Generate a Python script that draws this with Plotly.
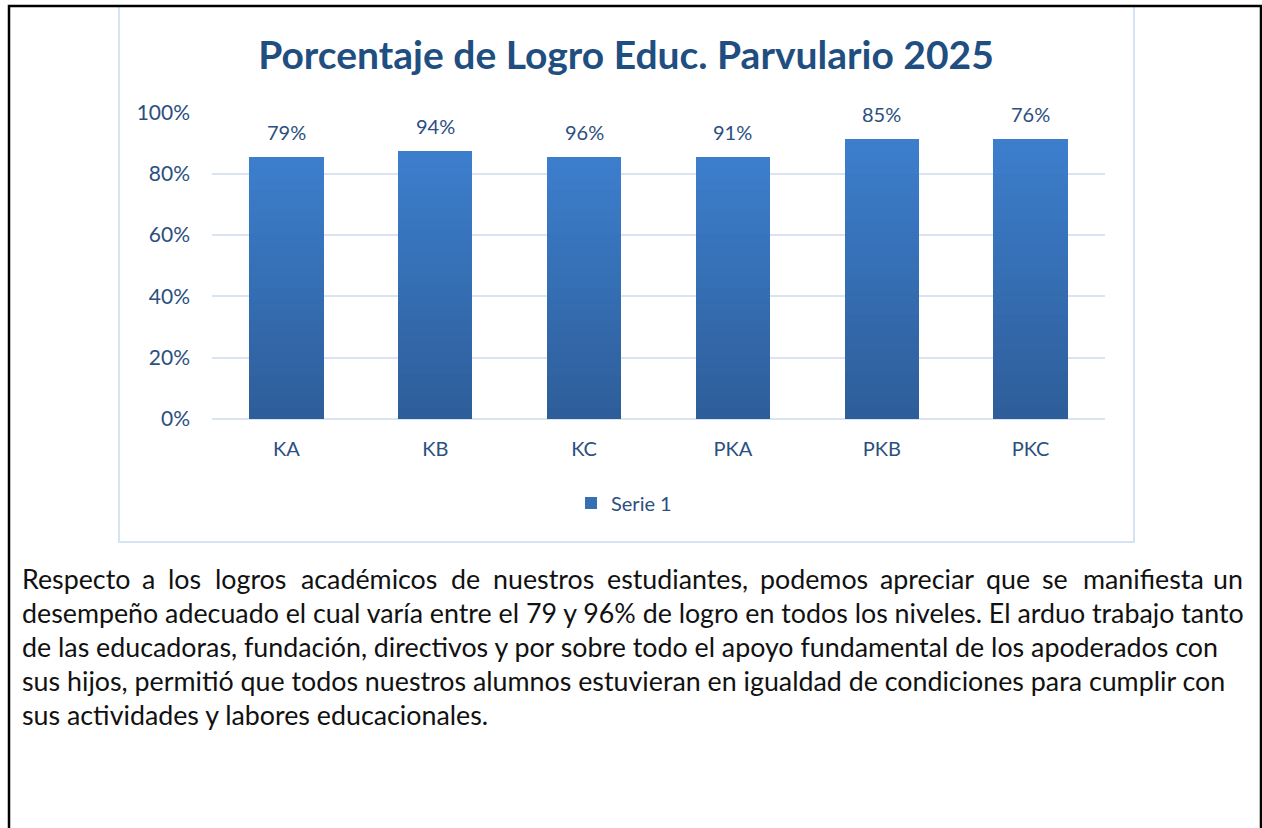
import plotly.graph_objects as go

# data
categories = ["KA", "KB", "KC", "PKA", "PKB", "PKC"]
bar_values = [0.854, 0.873, 0.854, 0.853, 0.912, 0.912]
label_text = ["79%", "94%", "96%", "91%", "85%", "76%"]
y_ticks = [0, 0.2, 0.4, 0.6, 0.8, 1.0]
series_name = "Serie 1"
chart_title = "Porcentaje de Logro Educ. Parvulario 2025"

paragraph_lines = [
    "Respecto a los logros académicos de nuestros estudiantes, podemos apreciar que se manifiesta un",
    "desempeño adecuado el cual varía entre el 79 y 96% de logro en todos los niveles. El arduo trabajo tanto",
    "de las educadoras, fundación, directivos y por sobre todo el apoyo fundamental de los apoderados con",
    "sus hijos, permitió que todos nuestros alumnos estuvieran en igualdad de condiciones para cumplir con",
    "sus actividades y labores educacionales.",
]

W, H = 1262, 828
FONT = "Lato"
BLUE_TEXT = "#2B4F80"
TOP_COLOR = (60, 126, 204)
BOTTOM_COLOR = (46, 94, 154)


def px(x):
    return x / W


def py(y):
    return 1 - y / H


def mix(t):
    c = [round(b + (a - b) * t) for a, b in zip(TOP_COLOR, BOTTOM_COLOR)]
    return f"rgb({c[0]},{c[1]},{c[2]})"


fig = go.Figure()

# vertical gradient: every bar split into thin stacked slices
n_slices = 24
for k in range(n_slices):
    fig.add_trace(go.Bar(
        x=categories,
        y=[v / n_slices for v in bar_values],
        marker=dict(color=mix(k / (n_slices - 1)), line=dict(width=0)),
        name=series_name,
        showlegend=(k == n_slices // 2),
        hoverinfo="skip",
    ))

# data labels above bars
for cat, val, lab in zip(categories, bar_values, label_text):
    fig.add_annotation(x=cat, y=val, text=lab, showarrow=False, yanchor="middle",
                       yshift=25, font=dict(family=FONT, size=20, color=BLUE_TEXT))

fig.update_layout(
    width=W, height=H,
    margin=dict(l=0, r=0, t=0, b=0, autoexpand=False),
    paper_bgcolor="white", plot_bgcolor="white",
    barmode="stack", bargap=0.5,
    font=dict(family=FONT, color=BLUE_TEXT),
    title=dict(text=f"<b>{chart_title}</b>", x=px(626), xanchor="center",
               y=py(55), yanchor="middle",
               font=dict(family=FONT, size=39, color="#1F4E80")),
    legend=dict(orientation="h", x=px(624), xanchor="center", y=py(503), yanchor="middle",
                font=dict(family=FONT, size=20, color=BLUE_TEXT)),
    xaxis=dict(domain=[px(212), px(1105)], showgrid=False, showline=False,
               ticklabelstandoff=16, tickfont=dict(family=FONT, size=20, color=BLUE_TEXT)),
    yaxis=dict(domain=[py(419), py(112)], range=[0, 1.0005], tickvals=y_ticks,
               tickformat=".0%", showgrid=True, gridcolor="#D9E3F2", gridwidth=2,
               zeroline=True, zerolinecolor="#D9E3F2", zerolinewidth=2,
               ticklabelstandoff=21, tickfont=dict(family=FONT, size=21, color=BLUE_TEXT)),
)

# chart frame and page border
fig.add_shape(type="rect", xref="paper", yref="paper", x0=px(119), x1=px(1134),
              y0=py(542), y1=py(6), line=dict(color="#D5E3F5", width=2))
fig.add_shape(type="rect", xref="paper", yref="paper", x0=px(9), x1=px(1261),
              y0=-0.02, y1=py(6), line=dict(color="black", width=2.5))

# paragraph text, first line justified word by word
CHAR_W = {c: 0.52 for c in "abcdeghknopqsuvxyz"}
CHAR_W.update({"i": 0.24, "l": 0.24, "j": 0.24, "f": 0.32, "t": 0.34, "r": 0.35,
               "m": 0.84, "w": 0.73, ",": 0.22, ".": 0.22, "%": 0.77, "R": 0.6,
               "é": 0.52, "í": 0.24, "ó": 0.56, "ñ": 0.56})

TEXT_SIZE = 26.8
LEFT, RIGHT = 20, 1245
line_y = [579, 613, 647, 681, 715]


def word_width(w):
    return sum(CHAR_W.get(c, 0.55) for c in w) * TEXT_SIZE


def add_text(x, anchor, y, text):
    fig.add_annotation(x=px(x), xanchor=anchor, xref="paper", yref="paper",
                       y=py(y), yanchor="middle", text=text, showarrow=False,
                       font=dict(family=FONT, size=TEXT_SIZE, color="#111111"))


for i, (line, ly) in enumerate(zip(paragraph_lines, line_y)):
    if i == 0:
        words = line.split()
        widths = [word_width(w) for w in words]
        gap = (RIGHT - LEFT - sum(widths)) / (len(words) - 1)
        x = LEFT
        for j, (w, ww) in enumerate(zip(words, widths)):
            if j == 0:
                add_text(LEFT, "left", ly, w)
            elif j == len(words) - 1:
                add_text(RIGHT, "right", ly, w)
            else:
                add_text(x + ww / 2, "center", ly, w)
            x += ww + gap
    else:
        add_text(LEFT, "left", ly, line)

fig.write_html("out.html", config={"displayModeBar": False},
               post_script="document.body.style.margin='0';document.body.style.overflow='hidden';")
